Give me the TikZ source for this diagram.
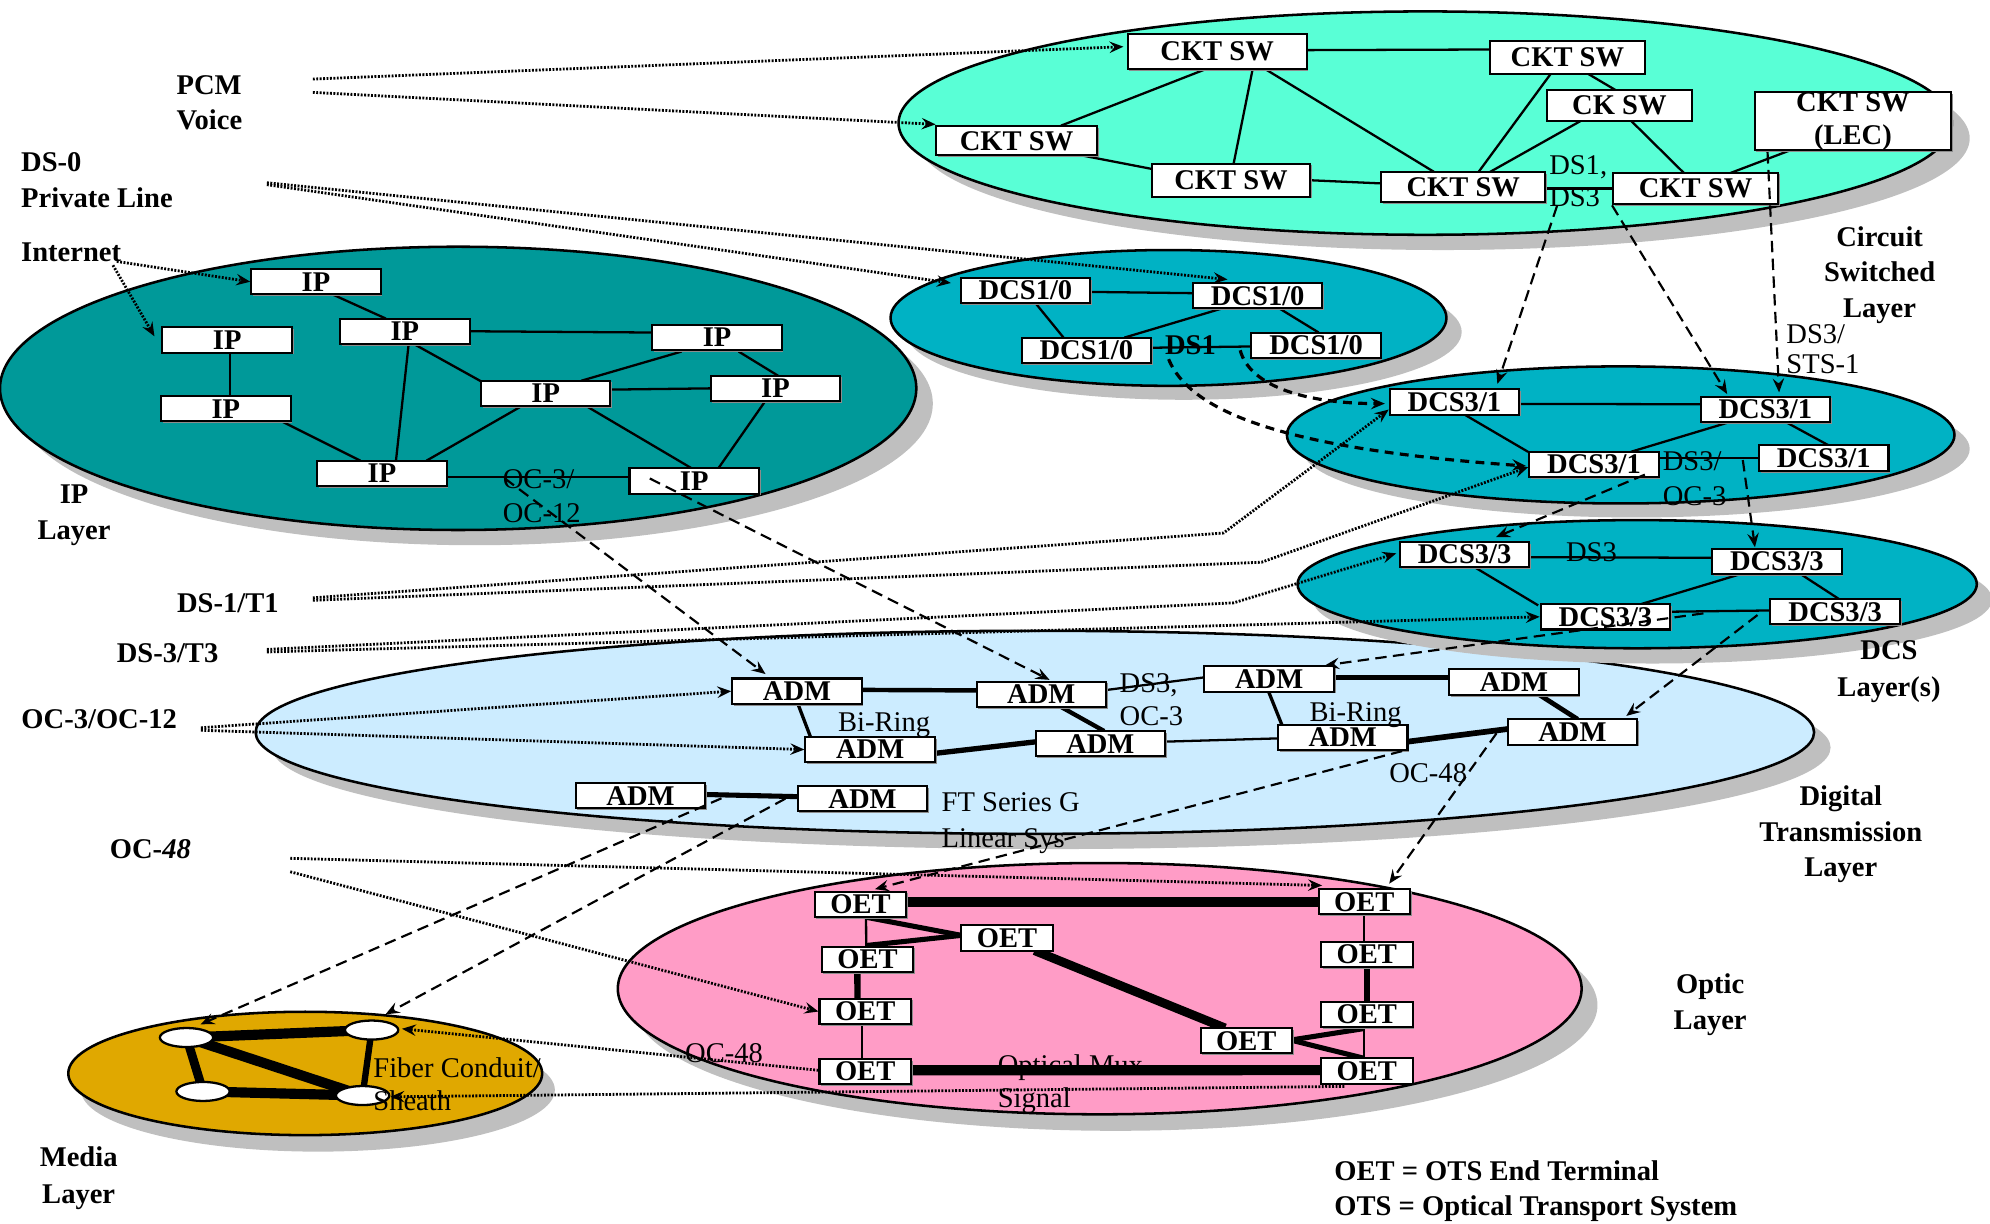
\documentclass[tikz,border=0pt]{standalone}
\usepackage{fontspec}
\setmainfont{Liberation Serif}
\usetikzlibrary{arrows.meta,calc,shadows,shapes.geometric}

\definecolor{cktc}{RGB}{89,255,214}
\definecolor{ipc}{RGB}{0,153,153}
\definecolor{dcsc}{RGB}{0,178,196}
\definecolor{dtc}{RGB}{204,236,255}
\definecolor{optc}{RGB}{255,156,198}
\definecolor{medc}{RGB}{224,168,0}
\definecolor{shd}{RGB}{191,191,191}

\pgfdeclarelayer{ell}
\pgfdeclarelayer{lnk}
\pgfdeclarelayer{front}
\pgfsetlayers{ell,lnk,main,front}

\newcommand\nfs{\fontsize{22.5}{27}\selectfont}
% solid link between two nodes, end points given as offsets from the node centres
\newcommand\lk[5][]{\draw[ln,#1] ($(#2)+(#3)$) -- ($(#4)+(#5)$);}
% layer disc with its grey drop shadow
\newcommand\layerdisc[6]{%
  \fill[shd] ($(#1,#2)+(#5)$) ellipse [x radius=#3pt, y radius=#4pt];
  \filldraw[fill=#6, draw=black, line width=2pt] (#1,#2) ellipse [x radius=#3pt, y radius=#4pt];}

\begin{document}
\begin{tikzpicture}[x=1pt,y=-1pt,
  nbox/.style={draw, fill=white, line width=1.6pt, inner sep=0pt, align=center,
    minimum height=20pt, font=\bfseries\nfs,
    drop shadow={shadow xshift=1.3pt, shadow yshift=-1.3pt, fill=black!45, opacity=1}},
  wn/.style={ellipse, draw, fill=white, line width=1.8pt, minimum width=42pt,
    minimum height=15pt, inner sep=0pt},
  lbl/.style={font=\bfseries\nfs, align=center, inner sep=0pt},
  ltag/.style={font=\fontsize{22.5}{26}\selectfont, align=left, inner sep=0pt},
  ln/.style={line width=1.8pt},
  dotc/.style={line width=2.2pt, dash pattern=on 1.5pt off 1.2pt,
    -{Stealth[length=11pt,width=9pt,inset=4pt]}},
  dshc/.style={line width=1.7pt, dash pattern=on 9pt off 5pt,
    -{Stealth[length=11pt,width=9pt,inset=4pt]}},
  dshb/.style={line width=2.5pt, dash pattern=on 7pt off 5pt,
    -{Stealth[length=11pt,width=9pt,inset=4pt]}},
]
\useasboundingbox (0,0) rectangle (1568,964);

% ---------- layer discs ----------
\begin{pgfonlayer}{ell}
\layerdisc{920.7}{250.5}{219}{53.5}{12,11}{dcsc}
\layerdisc{361}{306}{361}{111.6}{13,12}{ipc}
\layerdisc{815.4}{577}{614}{80}{13,12}{dtc}
\layerdisc{1277}{342.7}{263}{54}{12,11}{dcsc}
\layerdisc{1290}{460.3}{267.6}{50.5}{12,12}{dcsc}
\layerdisc{1123}{97}{415}{88}{14,12}{cktc}
\layerdisc{866.5}{779}{379.7}{99}{12.5,13}{optc}
\layerdisc{240.5}{845.8}{186.7}{48.6}{10,13}{medc}
\node[ltag, anchor=west] (lMux) at (786,854) {Optical Mux\\Signal};
\end{pgfonlayer}

% ---------- circuit switched layer ----------
\node[nbox, minimum width=141pt, minimum height=28pt] (cs1) at (959,40.5) {CKT SW};
\node[nbox, minimum width=122pt, minimum height=26pt] (cs2) at (1235,45) {CKT SW};
\node[nbox, minimum width=114pt, minimum height=24pt] (cs3) at (1276,83) {CK SW};
\node[nbox, minimum width=155pt, minimum height=44pt, font=\bfseries\fontsize{22.5}{26}\selectfont] (cs4) at (1460,95.5) {CKT SW\\(LEC)};
\node[nbox, minimum width=127pt, minimum height=23pt] (cs5) at (801,111) {CKT SW};
\node[nbox, minimum width=125pt, minimum height=26pt] (cs6) at (970,142) {CKT SW};
\node[nbox, minimum width=129pt, minimum height=24pt] (cs7) at (1153,147.5) {CKT SW};
\node[nbox, minimum width=130pt, minimum height=25pt] (cs8) at (1336,148.5) {CKT SW};

% ---------- DCS layers ----------
\node[nbox, minimum width=102pt] (d10a) at (808,229) {DCS1/0};
\node[nbox, minimum width=102pt] (d10b) at (991,233) {DCS1/0};
\node[nbox, minimum width=102pt] (d10c) at (856,276) {DCS1/0};
\node[nbox, minimum width=102pt] (d10d) at (1037,272) {DCS1/0};

\node[nbox, minimum width=102pt] (d31a) at (1146,316.7) {DCS3/1};
\node[nbox, minimum width=102pt] (d31b) at (1391,322.5) {DCS3/1};
\node[nbox, minimum width=102pt] (d31c) at (1256,366) {DCS3/1};
\node[nbox, minimum width=102pt] (d31d) at (1437,361) {DCS3/1};

\node[nbox, minimum width=102pt] (d33a) at (1154,437) {DCS3/3};
\node[nbox, minimum width=102pt] (d33b) at (1400,442.5) {DCS3/3};
\node[nbox, minimum width=102pt] (d33c) at (1265,486) {DCS3/3};
\node[nbox, minimum width=102pt] (d33d) at (1446,482) {DCS3/3};

% ---------- IP layer ----------
\node[nbox, minimum width=102pt] (ip1) at (249,222) {IP};
\node[nbox, minimum width=102pt] (ip2) at (179,268) {IP};
\node[nbox, minimum width=102pt] (ip3) at (319,261) {IP};
\node[nbox, minimum width=102pt] (ip4) at (565,266) {IP};
\node[nbox, minimum width=102pt] (ip5) at (430,310) {IP};
\node[nbox, minimum width=102pt] (ip6) at (611,306) {IP};
\node[nbox, minimum width=102pt] (ip7) at (178,322) {IP};
\node[nbox, minimum width=102pt] (ip8) at (301,373) {IP};
\node[nbox, minimum width=102pt] (ip9) at (547,379) {IP};

% ---------- digital transmission layer ----------
\node[nbox, minimum width=102pt] (adm1) at (628,544.6) {ADM};
\node[nbox, minimum width=102pt] (adm2) at (820.5,547) {ADM};
\node[nbox, minimum width=102pt] (adm3) at (1000,535) {ADM};
\node[nbox, minimum width=102pt] (adm4) at (1193,537.5) {ADM};
\node[nbox, minimum width=102pt] (adm5) at (685.6,590.6) {ADM};
\node[nbox, minimum width=102pt] (adm6) at (867,586) {ADM};
\node[nbox, minimum width=102pt] (adm7) at (1058,581) {ADM};
\node[nbox, minimum width=102pt] (adm8) at (1239,576.7) {ADM};
\node[nbox, minimum width=102pt] (adm9) at (504.7,627) {ADM};
\node[nbox, minimum width=102pt] (adm10) at (679.6,629.3) {ADM};

% ---------- optic layer ----------
\node[nbox, minimum width=72pt] (o1) at (678,712.7) {OET};
\node[nbox, minimum width=72pt] (o2) at (1075,710.5) {OET};
\node[nbox, minimum width=72pt] (o3) at (683.5,756) {OET};
\node[nbox, minimum width=72pt] (o4) at (793.5,739) {OET};
\node[nbox, minimum width=72pt] (o5) at (1077,752) {OET};
\node[nbox, minimum width=72pt] (o6) at (681.7,797) {OET};
\node[nbox, minimum width=72pt] (o7) at (1077,799.4) {OET};
\node[nbox, minimum width=72pt] (o8) at (982,820) {OET};
\node[nbox, minimum width=72pt] (o9) at (681.7,844.3) {OET};
\node[nbox, minimum width=72pt] (o10) at (1077,843.9) {OET};

% ---------- media layer ----------
\node[wn] (m1) at (147,817.5) {};
\node[wn] (m2) at (292.8,811.6) {};
\node[wn] (m3) at (160,860) {};
\node[wn] (m4) at (285.7,863.2) {};

% ---------- link labels ----------
\node[ltag, anchor=west, font=\fontsize{22.5}{25}\selectfont] (lDS13) at (1220.5,143) {DS1,\\DS3};
\node[ltag, font=\bfseries\nfs] (lDS1) at (938,272) {DS1};
\node[ltag, anchor=west, font=\fontsize{22.5}{24}\selectfont] (lSTS) at (1407.4,275) {DS3/\\STS-1};
\node[ltag, anchor=west, font=\fontsize{22.5}{27.5}\selectfont] (lOC3) at (1310,377) {DS3/\\OC-3};
\node[ltag] (lDS3) at (1254,434.7) {DS3};
\node[ltag, anchor=west, font=\fontsize{22.5}{27}\selectfont] (lOC312) at (396,391) {OC-3/\\OC-12};
\node[ltag, anchor=west] (lDSOC) at (882,551) {DS3,\\OC-3};
\node[ltag] (lBR1) at (696.6,571.3) {Bi-Ring};
\node[ltag] (lBR2) at (1068.2,563.4) {Bi-Ring};
\node[ltag, anchor=west, font=\fontsize{22.5}{28}\selectfont] (lFT) at (741.8,648.5) {FT Series G\\Linear Sys};
\node[ltag] (lOC48a) at (1125.3,609.4) {OC-48};
\node[ltag] (lOC48b) at (570.5,830) {OC-48};
\node[ltag, anchor=west] (lFib) at (294,854.6) {Fiber Conduit/\\Sheath};

% ---------- layer and service labels ----------
\node[lbl, anchor=west, align=left, font=\bfseries\fontsize{22.5}{28}\selectfont] (pcm) at (139,81) {PCM\\Voice};
\node[lbl, anchor=west, align=left, font=\bfseries\fontsize{22.5}{28}\selectfont] (ds0) at (16.5,142) {DS-0\\Private Line};
\node[lbl, anchor=west] (inet) at (16.5,199) {Internet};
\node[lbl, font=\bfseries\fontsize{22.5}{29}\selectfont] (iplay) at (58.4,406) {IP\\Layer};
\node[lbl, anchor=west] (ds1) at (139.3,475) {DS-1/T1};
\node[lbl, anchor=west] (ds3) at (91.8,515) {DS-3/T3};
\node[lbl, anchor=west] (oc3) at (16.7,567) {OC-3/OC-12};
\node[lbl, anchor=west] (oc48) at (86.4,669) {OC-\textit{48}};
\node[lbl, font=\bfseries\fontsize{22.5}{29}\selectfont] (medl) at (62,928) {Media\\Layer};
\node[lbl, font=\bfseries\fontsize{22.5}{28}\selectfont] (ckl) at (1481,216.5) {Circuit\\Switched\\Layer};
\node[lbl, font=\bfseries\fontsize{22.5}{29}\selectfont] (dcsl) at (1488.4,529) {DCS\\Layer(s)};
\node[lbl, font=\bfseries\fontsize{22.5}{28}\selectfont] (dtl) at (1450.4,657.5) {Digital\\Transmission\\Layer};
\node[lbl, font=\bfseries\fontsize{22.5}{28}\selectfont] (optl) at (1347.5,791.5) {Optic\\Layer};
\node[lbl, anchor=west, align=left, font=\bfseries\fontsize{22.5}{28}\selectfont] (leg) at (1051.2,938.5) {OET = OTS End Terminal\\OTS = Optical Transport System};

% ---------- solid links ----------
\begin{pgfonlayer}{lnk}
% circuit switched
\lk{cs1}{71,-1}{cs2}{-61,-6}
\lk{cs1}{-9,14}{cs5}{35,-12}
\lk{cs1}{28,14}{cs6}{2,-13}
\lk{cs1}{38,14}{cs7}{-23,-12}
\lk{cs2}{-13,13}{cs7}{12,-12}
\lk{cs2}{16,13}{cs3}{-3,-12}
\lk{cs3}{-30,12}{cs7}{21,-12}
\lk{cs3}{9,12}{cs8}{-9,-12}
\lk{cs4}{-47,22}{cs8}{27,-12}
\lk{cs5}{49,11}{cs6}{-63,-9}
\lk{cs6}{62,0}{cs7}{-65,-3}
\lk{cs7}{65,1}{cs8}{-65,0}
% DCS1/0
\lk{d10a}{51,1}{d10b}{-51,-2}
\lk{d10a}{8,10}{d10c}{-18,-10}
\lk{d10b}{-28,10}{d10c}{30,-10}
\lk{d10b}{17,10}{d10d}{2,-10}
\lk{d10c}{51,-2}{d10d}{-51,1}
% DCS3/1
\lk{d31a}{51,1.6}{d31b}{-51,-4}
\lk{d31a}{8,10}{d31c}{-52,-10}
\lk{d31b}{-28,10}{d31c}{29,-10}
\lk{d31b}{16,10}{d31d}{4,-10}
\lk{d31c}{51,-5}{d31d}{-51,0}
% DCS3/3
\lk{d33a}{51,2}{d33b}{-51,-3}
\lk{d33a}{8,10}{d33c}{-53,-9}
\lk{d33b}{-29,10}{d33c}{28,-10}
\lk{d33b}{19,10}{d33d}{3,-10}
\lk{d33c}{50,-4}{d33d}{-51,-1}
% IP
\lk{ip1}{13,10}{ip3}{-15,-10}
\lk{ip2}{2,10}{ip7}{3,-10}
\lk{ip3}{51,0}{ip4}{-51,-4}
\lk{ip3}{3,10}{ip8}{11,-10}
\lk{ip3}{7,10}{ip5}{-50,-9}
\lk{ip4}{-28,11}{ip5}{28,-10}
\lk{ip4}{17,11}{ip6}{2,-10}
\lk{ip5}{50,-3}{ip6}{-51,0}
\lk{ip5}{-19,10}{ip8}{35,-10}
\lk{ip5}{32,10}{ip9}{-2,-10}
\lk{ip6}{-8,10}{ip9}{19,-10}
\lk{ip7}{44,10}{ip8}{-17,-10}
\lk{ip8}{51,3}{ip9}{-51,-3}
% ADM rings and linear system
\lk[line width=3.5pt]{adm1}{51,-1}{adm2}{-51,-3}
\lk[line width=2.6pt]{adm1}{0.7,10}{adm5}{-47,-10}
\lk[line width=3.4pt]{adm2}{15.5,10}{adm6}{3,-10}
\lk[line width=4.2pt]{adm5}{51,3}{adm6}{-50,-1.6}
\lk{adm6}{50,-1.6}{adm7}{-51,0.8}
\lk{adm2}{51,-3.3}{adm3}{-51,-1.3}
\lk[line width=4pt]{adm3}{51,-1.3}{adm4}{-50,-3.8}
\lk[line width=2.6pt]{adm3}{-0.4,10}{adm7}{-48,-10}
\lk[line width=3.8pt]{adm4}{20,10}{adm8}{4,-10}
\lk[line width=4.5pt]{adm7}{51,3.4}{adm8}{-51,-2.3}
\lk[line width=4pt]{adm9}{51,-1}{adm10}{-51,-1.6}
% OET
\lk[line width=8pt]{o1}{35,-1.7}{o2}{-36,0.5}
\lk[line width=4pt]{o1}{4.4,10}{o4}{-36,-2}
\lk[line width=4pt]{o3}{-1,-11}{o4}{-36,-2}
\lk{o1}{4.4,10}{o3}{-1,-10}
\lk[line width=5pt]{o3}{-8,10}{o6}{-6,-10}
\lk{o6}{-2.7,10}{o9}{-2.7,-10}
\lk[line width=8pt]{o9}{35,-1}{o10}{-36,-0.7}
\lk[line width=7pt]{o4}{21.6,10}{o8}{-16.7,-10}
\lk{o2}{0,10}{o5}{-2,-10}
\lk[line width=5pt]{o5}{0,10}{o7}{0,-10}
\lk[line width=4pt]{o8}{35,-0.5}{o7}{-2,11}
\lk[line width=4pt]{o8}{35,-0.5}{o10}{-2,-10}
\lk{o7}{-2,10}{o10}{-2,-10}
% media conduits
\draw[line width=8pt] (m1.center) -- (m2.center);
\draw[line width=7pt] (m1.center) -- (m3.center);
\draw[line width=8pt] (m1.center) -- (m4.center);
\draw[line width=8pt] (m3.center) -- (m4.center);
\draw[line width=5pt] (m2.center) -- (m4.center);
\end{pgfonlayer}

% ---------- service feeds and inter-layer mappings ----------
\coordinate (sPCMa) at (246.5,62.3);
\coordinate (sPCMb) at (246.5,72.8);
\coordinate (sDS0) at (210.3,144);
\coordinate (sINT) at (92,206);
\coordinate (sDS1) at (246.5,471);
\coordinate (sDS3) at (210.3,511.7);
\coordinate (sOC3) at (158.3,573.4);
\coordinate (sOC48a) at (228.7,676.3);
\coordinate (sOC48b) at (228.7,686.9);

\begin{pgfonlayer}{front}
% dotted feeds
\draw[dotc] (sPCMa) -- ($(cs1.west)+(-2.5,-3.7)$);
\draw[dotc] (sPCMb) -- ($(cs5.west)+(0.5,-13)$);
\draw[dotc] ($(sDS0)+(0,1.5)$) -- ($(d10a.west)+(-7,-6)$);
\draw[dotc] (sDS0) -- ($(d10b.north west)+(28,-2)$);
\draw[dotc] (sINT) -- (ip1.west);
\draw[dotc] ($(sINT)+(-3,3)$) -- ($(ip2.west)+(-5.5,-3)$);
\draw[dotc] (sDS1) -- (964,420) -- ($(d31a.west)+(0,6)$);
\draw[dotc] ($(sDS1)+(0,2)$) -- (994,443) -- ($(d31c.west)+(0,2)$);
\draw[dotc] (sDS3) -- (972,475) -- ($(d33a.west)+(-2,-1)$);
\draw[dotc] ($(sDS3)+(0,2)$) -- (d33c.west);
\draw[dotc] (sOC3) -- (adm1.west);
\draw[dotc] ($(sOC3)+(0,2)$) -- (adm5.west);
\draw[dotc] (sOC48a) -- ($(o2.north west)+(3.5,-2)$);
\draw[dotc] (sOC48b) -- (o6.west);
\draw[dotc] ($(o9.west)+(0,-1)$) -- ($(m2.east)+(2,-1)$);
\draw[dotc] ($(o10.south west)+(19,1.3)$) -- ($(m4.east)+(0,1)$);
% dashed mappings between layers
\draw[dshc] ($(cs7.south east)+(8.5,2)$) -- ($(d31a.north east)+(-18,-3.4)$);
\draw[dshc] (cs8.south west) -- ($(d31b.north west)+(21.7,-1.2)$);
\draw[dshc] ($(cs4.south west)+(11,0.7)$) -- ($(d31b.north)+(10.8,-2.5)$);
\draw[dshb] ($(d10c.east)+(13,7)$) .. controls (940,330) and (1030,355) .. ($(d31c.west)+(-1.7,1.2)$);
\draw[dshb] ($(d10d.west)+(-8,4)$) .. controls (985,305) and (1030,318) .. ($(d31a.west)+(-3,1.3)$);
\draw[dshc] ($(d31c)+(40,8)$) -- ($(d33a.north east)+(-27,-3)$);
\draw[dshc] ($(d31d.west)+(-12,1.5)$) -- ($(d33b.north west)+(34.6,-0.5)$);
\draw[dshc] ($(d33d.west)+(-52,1.3)$) -- ($(adm3.north east)+(-7.6,0)$);
\draw[dshc] ($(d33d.west)+(-9.4,2.6)$) -- ($(adm8.north east)+(-9.4,-1.8)$);
\draw[dshc] ($(ip8.east)+(45,4)$) -- ($(adm1.north west)+(27,-2.7)$);
\draw[dshc] ($(ip9)+(-35,-2)$) -- ($(adm2.north)+(6.5,-0.5)$);
\draw[dshc] ($(adm9.east)+(12,2)$) -- ($(m1.north)+(11,-2)$);
\draw[dshc] ($(adm10.west)+(-9,0)$) -- ($(m2.north)+(11,-4)$);
\draw[dshc] ($(adm7.south east)+(-5,0)$) -- ($(o1.north)+(11.4,-1.3)$);
\draw[dshc] ($(adm8.west)+(-8,1)$) -- ($(o2.north)+(19.6,-3.4)$);
\end{pgfonlayer}
\end{tikzpicture}
\end{document}
